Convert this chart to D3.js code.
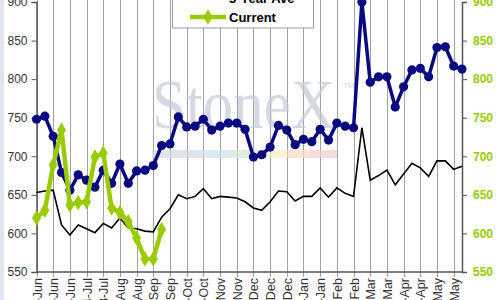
<!DOCTYPE html>
<html>
<head>
<meta charset="utf-8">
<script src="https://cdn.jsdelivr.net/npm/d3@7"></script>
<style>
  body { margin: 0; background: #fff; }
  svg { display: block; font-family: "Liberation Sans", Arial, sans-serif; }
</style>
</head>
<body>
<div id="chart"></div>
<script>
// chart data (weekly, 52 weeks, Jun -> May)
var tickLabels = ['2-Jun','16-Jun','30-Jun','14-Jul','28-Jul','11-Aug','25-Aug','8-Sep','22-Sep',
  '6-Oct','20-Oct','3-Nov','17-Nov','1-Dec','15-Dec','29-Dec','12-Jan','26-Jan','9-Feb','23-Feb',
  '9-Mar','23-Mar','6-Apr','20-Apr','4-May','18-May'];

var lastYear = [748,752,726,679,656,676,669,660,682,665,690,665,681,682,688,714,716,751,738,739,
  748,734,739,743,743,735,699,702,712,740,734,715,722,719,735,721,743,739,737,900,
  796,803,803,764,790,812,814,803,841,842,817,813];

var fiveYearAve = [653,655,656,611,598,611,606,601,613,607,620,607,606,603,602,621,632,650,645,648,
  658,645,648,647,646,641,633,630,641,655,654,642,648,648,659,647,659,652,648,737,
  669,675,682,663,677,691,685,674,694,694,683,687];

var current = [620,630,689,734,637,640,641,699,704,633,627,615,594,567,567,605];

var yTicks = [550,600,650,700,750,800,850,900];

var width = 500, height = 300;
var plot = {left: 36.5, right: 462, top: 2, bottom: 272};

var svg = d3.select('#chart').append('svg')
  .attr('width', width)
  .attr('height', height);

svg.append('rect').attr('width', width).attr('height', height).attr('fill', '#fff');
svg.append('rect').attr('width', 4).attr('height', height).attr('fill', '#dfe6f1');

var x = d3.scaleLinear().domain([0, lastYear.length - 1]).range([plot.left, plot.right]);
var y = d3.scaleLinear().domain([550, 900]).range([plot.bottom, plot.top]);

// vertical gridlines every 2 weeks
svg.append('g').selectAll('line')
  .data(tickLabels)
  .enter().append('line')
  .attr('x1', function(d, i){ return Math.round(x(i * 2)) + 0.5; })
  .attr('x2', function(d, i){ return Math.round(x(i * 2)) + 0.5; })
  .attr('y1', 0)
  .attr('y2', plot.bottom + 5)
  .attr('stroke', '#a0a0a0')
  .attr('stroke-width', 1);

// watermark
var wm = svg.append('g').attr('opacity', 0.7);
var bandColors = ['#d5d9e0','#cfe0ec','#d6e6d2','#f4eec4','#f6dcc0','#f2cccc'];
var bandEdges = [152, 203, 233, 267, 287, 310, 337];
wm.selectAll('rect')
  .data(bandColors)
  .enter().append('rect')
  .attr('x', function(d, i){ return bandEdges[i]; })
  .attr('y', 150)
  .attr('width', function(d, i){ return bandEdges[i + 1] - bandEdges[i]; })
  .attr('height', 8)
  .attr('fill', function(d){ return d; });
wm.append('text')
  .attr('x', 152).attr('y', 128)
  .attr('font-family', '"Liberation Serif", "DejaVu Serif", serif')
  .attr('font-size', 70)
  .attr('textLength', 183)
  .attr('lengthAdjust', 'spacingAndGlyphs')
  .attr('fill', '#c2c9d7')
  .text('StoneX');
wm.append('text')
  .attr('x', 343).attr('y', 88)
  .attr('font-size', 8)
  .attr('fill', '#c2c9d7')
  .text('TM');

// axes
var leftAxis = svg.append('g')
  .attr('transform', 'translate(' + plot.left + ',0)')
  .call(d3.axisLeft(y).tickValues(yTicks).tickSize(5).tickPadding(4));
var rightAxis = svg.append('g')
  .attr('transform', 'translate(' + plot.right + ',0)')
  .call(d3.axisRight(y).tickValues(yTicks).tickSize(5).tickPadding(6));
[leftAxis, rightAxis].forEach(function(a){
  a.select('.domain').attr('stroke', '#555').attr('stroke-width', 1.5);
  a.selectAll('.tick line').attr('stroke', '#555');
  a.selectAll('text').attr('font-size', 12).attr('font-family', '"Liberation Sans", Arial, sans-serif');
});
leftAxis.selectAll('text').attr('fill', '#333');
rightAxis.selectAll('text').attr('fill', '#99cc00').attr('font-weight', 'bold');

svg.append('line')
  .attr('x1', plot.left).attr('x2', plot.right)
  .attr('y1', plot.bottom).attr('y2', plot.bottom)
  .attr('stroke', '#555').attr('stroke-width', 1.5);

// category labels (rotated, cut off at the bottom like the source)
svg.append('g').selectAll('text')
  .data(tickLabels)
  .enter().append('text')
  .attr('transform', function(d, i){ return 'translate(' + (Math.round(x(i * 2)) + 0.5) + ',' + (plot.bottom + 6) + ') rotate(-90)'; })
  .attr('text-anchor', 'end')
  .attr('dy', '0.35em')
  .attr('font-size', 12.5)
  .attr('fill', '#333')
  .text(function(d){ return d; });

// series
var line = d3.line()
  .x(function(d, i){ return x(i); })
  .y(function(d){ return y(d); });

svg.append('path')
  .datum(fiveYearAve)
  .attr('d', line)
  .attr('fill', 'none')
  .attr('stroke', '#000')
  .attr('stroke-width', 1.6);

svg.append('path')
  .datum(lastYear)
  .attr('d', line)
  .attr('fill', 'none')
  .attr('stroke', '#0a0a80')
  .attr('stroke-width', 3.5);
svg.append('g').selectAll('circle')
  .data(lastYear)
  .enter().append('circle')
  .attr('cx', function(d, i){ return x(i); })
  .attr('cy', function(d){ return y(d); })
  .attr('r', 4.6)
  .attr('fill', '#0a0a80');

svg.append('path')
  .datum(current)
  .attr('d', line)
  .attr('fill', 'none')
  .attr('stroke', '#99cc00')
  .attr('stroke-width', 4.5);
var diamond = d3.symbol().type(d3.symbolDiamond).size(70);
svg.append('g').selectAll('path')
  .data(current)
  .enter().append('path')
  .attr('d', diamond)
  .attr('transform', function(d, i){ return 'translate(' + x(i) + ',' + y(d) + ')'; })
  .attr('fill', '#99cc00');

// legend (top clipped like the source)
var legend = svg.append('g');
legend.append('rect')
  .attr('x', 172.5).attr('y', -30)
  .attr('width', 141).attr('height', 58)
  .attr('fill', '#fff').attr('stroke', '#999');
legend.append('line')
  .attr('x1', 190).attr('x2', 226).attr('y1', -3).attr('y2', -3)
  .attr('stroke', '#000').attr('stroke-width', 1.6);
legend.append('text')
  .attr('x', 229).attr('y', 3)
  .attr('font-size', 13).attr('font-weight', 'bold')
  .text('5-Year Ave');
legend.append('line')
  .attr('x1', 190).attr('x2', 226).attr('y1', 17).attr('y2', 17)
  .attr('stroke', '#99cc00').attr('stroke-width', 4.5);
legend.append('path')
  .attr('d', diamond)
  .attr('transform', 'translate(208,17)')
  .attr('fill', '#99cc00');
legend.append('text')
  .attr('x', 229).attr('y', 22)
  .attr('font-size', 13).attr('font-weight', 'bold')
  .text('Current');
</script>
</body>
</html>
